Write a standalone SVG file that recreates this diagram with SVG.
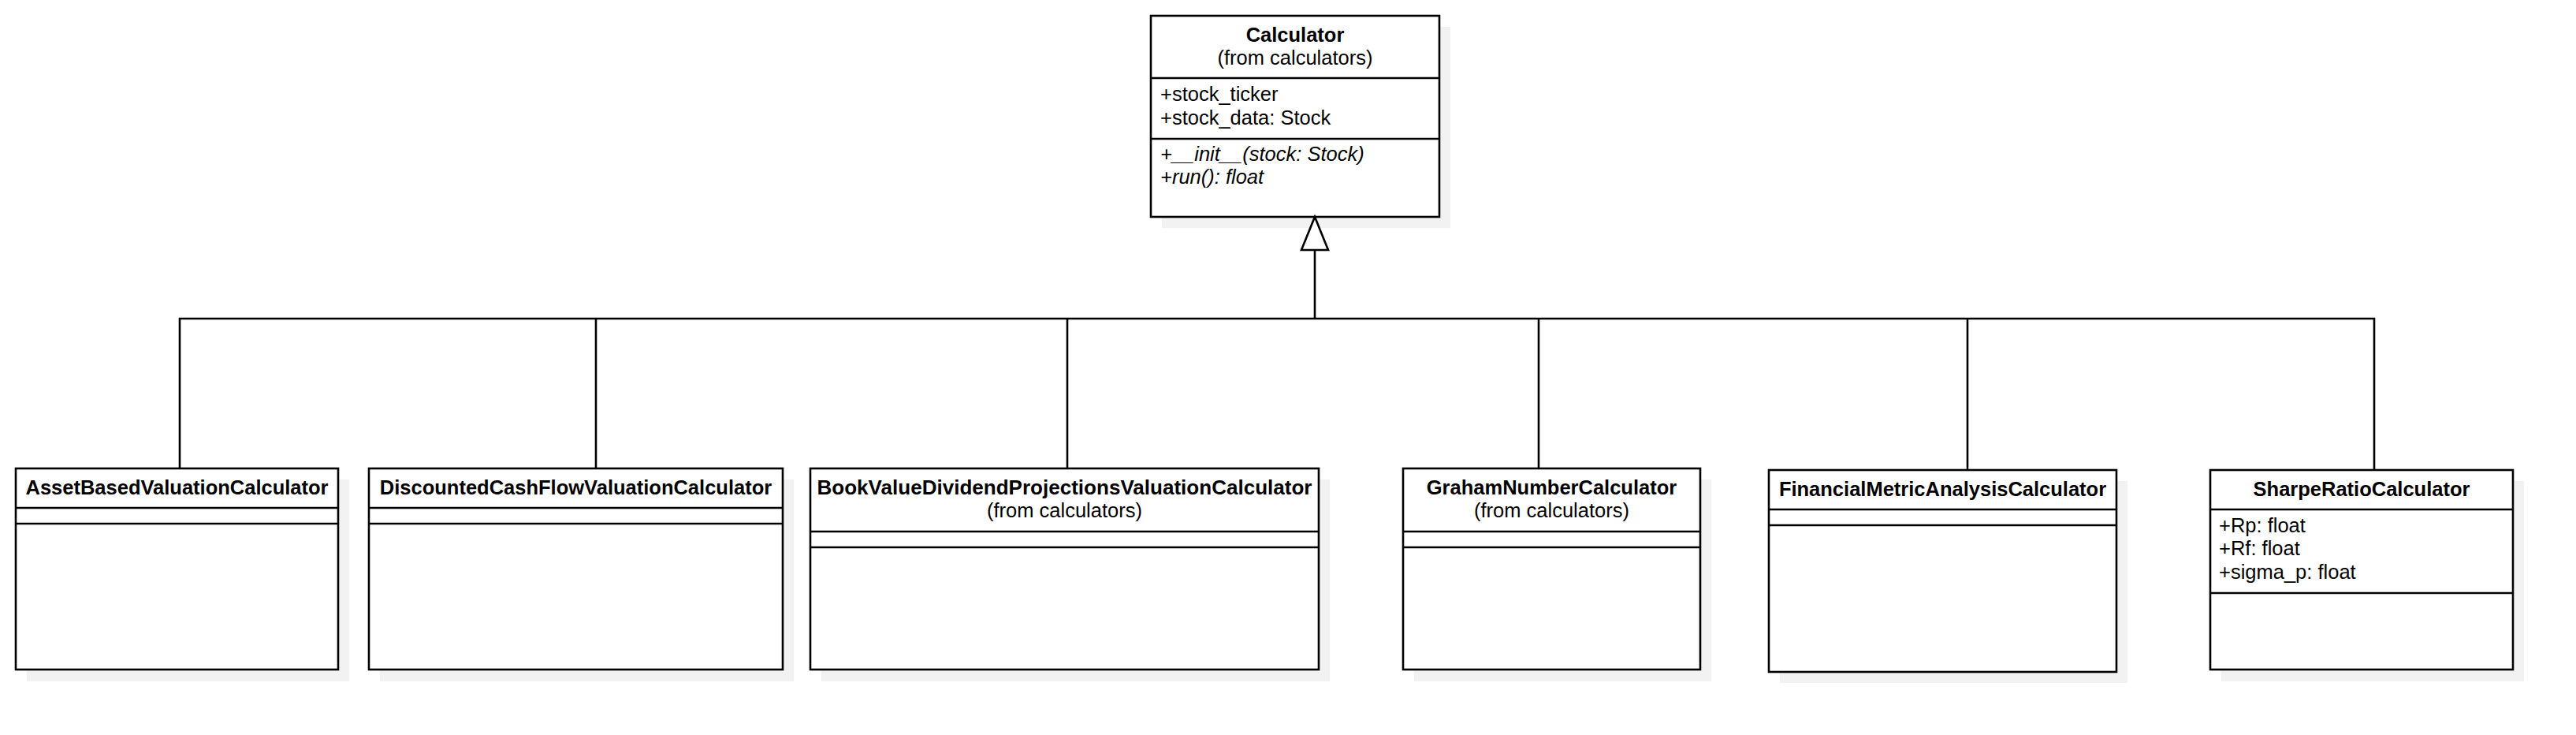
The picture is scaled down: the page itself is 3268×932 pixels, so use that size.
<svg xmlns="http://www.w3.org/2000/svg" width="3268" height="932" viewBox="0 0 3268 932">
<style>
  .box { fill: #ffffff; stroke: #000000; stroke-width: 2.6; }
  .shadow { fill: #f2f2f2; stroke: none; }
  .div { stroke: #000000; stroke-width: 2.6; fill: none; }
  .title { font-family: "Liberation Sans", Arial, sans-serif; font-size: 25.5px; font-weight: bold; text-anchor: middle; fill: #000000; }
  .sub { font-family: "Liberation Sans", Arial, sans-serif; font-size: 25.5px; text-anchor: middle; fill: #000000; }
  .attr { font-family: "Liberation Sans", Arial, sans-serif; font-size: 25.5px; fill: #000000; }
  .meth { font-family: "Liberation Sans", Arial, sans-serif; font-size: 25.5px; font-style: italic; fill: #000000; }
  .conn { stroke: #000000; stroke-width: 2.6; fill: none; }
  .head { stroke: #000000; stroke-width: 2.6; fill: #ffffff; }
</style>
<rect width="3268" height="932" fill="#ffffff"/>

<g id="Calculator">
  <rect class="shadow" x="1474" y="34" width="366" height="255"/>
  <rect class="box" x="1460" y="20" width="366" height="255"/>
  <line class="div" x1="1460" y1="99" x2="1826" y2="99"/>
  <line class="div" x1="1460" y1="176" x2="1826" y2="176"/>
  <text class="title" x="1643" y="53">Calculator</text>
  <text class="sub" x="1643" y="82">(from calculators)</text>
  <text class="attr" x="1472" y="128">+stock_ticker</text>
  <text class="attr" x="1472" y="158">+stock_data: Stock</text>
  <text class="meth" x="1472" y="204">+__init__(stock: Stock)</text>
  <text class="meth" x="1472" y="233">+run(): float</text>
</g>

<g id="AssetBasedValuationCalculator">
  <rect class="shadow" x="34" y="608" width="409" height="256"/>
  <rect class="box" x="20" y="594" width="409" height="255"/>
  <line class="div" x1="20" y1="644" x2="429" y2="644"/>
  <line class="div" x1="20" y1="664" x2="429" y2="664"/>
  <text class="title" x="224.5" y="627">AssetBasedValuationCalculator</text>
</g>

<g id="DiscountedCashFlowValuationCalculator">
  <rect class="shadow" x="482" y="608" width="525" height="256"/>
  <rect class="box" x="468" y="594" width="525" height="255"/>
  <line class="div" x1="468" y1="644" x2="993" y2="644"/>
  <line class="div" x1="468" y1="664" x2="993" y2="664"/>
  <text class="title" x="730.5" y="627">DiscountedCashFlowValuationCalculator</text>
</g>

<g id="BookValueDividendProjectionsValuationCalculator">
  <rect class="shadow" x="1042" y="608" width="645" height="256"/>
  <rect class="box" x="1028" y="594" width="645" height="255"/>
  <line class="div" x1="1028" y1="674" x2="1673" y2="674"/>
  <line class="div" x1="1028" y1="694" x2="1673" y2="694"/>
  <text class="title" x="1350.5" y="627" textLength="628" lengthAdjust="spacingAndGlyphs">BookValueDividendProjectionsValuationCalculator</text>
  <text class="sub" x="1350.5" y="656">(from calculators)</text>
</g>

<g id="GrahamNumberCalculator">
  <rect class="shadow" x="1794" y="608" width="377" height="256"/>
  <rect class="box" x="1780" y="594" width="377" height="255"/>
  <line class="div" x1="1780" y1="674" x2="2157" y2="674"/>
  <line class="div" x1="1780" y1="694" x2="2157" y2="694"/>
  <text class="title" x="1968.5" y="627">GrahamNumberCalculator</text>
  <text class="sub" x="1968.5" y="656">(from calculators)</text>
</g>

<g id="FinancialMetricAnalysisCalculator">
  <rect class="shadow" x="2258" y="610" width="441" height="256"/>
  <rect class="box" x="2244" y="596" width="441" height="256"/>
  <line class="div" x1="2244" y1="646" x2="2685" y2="646"/>
  <line class="div" x1="2244" y1="666" x2="2685" y2="666"/>
  <text class="title" x="2464.5" y="629">FinancialMetricAnalysisCalculator</text>
</g>

<g id="SharpeRatioCalculator">
  <rect class="shadow" x="2818" y="610" width="384" height="254"/>
  <rect class="box" x="2804" y="596" width="384" height="253"/>
  <line class="div" x1="2804" y1="646" x2="3188" y2="646"/>
  <line class="div" x1="2804" y1="752" x2="3188" y2="752"/>
  <text class="title" x="2996" y="629">SharpeRatioCalculator</text>
  <text class="attr" x="2815" y="675">+Rp: float</text>
  <text class="attr" x="2815" y="704">+Rf: float</text>
  <text class="attr" x="2815" y="734">+sigma_p: float</text>
</g>

<g id="connectors">
  <polyline class="conn" points="228,594 228,404 3012,404 3012,596"/>
  <line class="conn" x1="756" y1="404" x2="756" y2="594"/>
  <line class="conn" x1="1354" y1="404" x2="1354" y2="594"/>
  <line class="conn" x1="1952" y1="404" x2="1952" y2="594"/>
  <line class="conn" x1="2496" y1="404" x2="2496" y2="596"/>
  <line class="conn" x1="1668" y1="404" x2="1668" y2="317"/>
  <polygon class="head" points="1668,275 1685,317 1651,317"/>
</g>
</svg>
